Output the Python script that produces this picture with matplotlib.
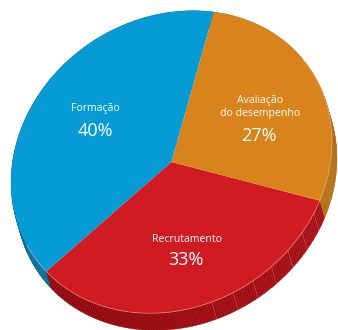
import numpy as np
import matplotlib.pyplot as plt
from matplotlib.transforms import Affine2D
from matplotlib.patches import Polygon
from matplotlib.colors import to_rgb

# slices, counter-clockwise from the top boundary
labels = ["Formação", "Recrutamento", "Avaliação\ndo desempenho"]
shares = [40, 33, 27]
pct_labels = ["40%", "33%", "27%"]
top_colors = ["#069bd5", "#d01b22", "#d8831b"]
side_dark = ["#08699a", "#8a0408", "#a9650f"]
side_light = ["#0b7db3", "#aa1017", "#b56f14"]

plt.rcParams['font.family'] = ['Open Sans', 'DejaVu Sans']

fig = plt.figure(figsize=(3.38, 3.30), dpi=100)
ax = fig.add_axes([0, 0, 1, 1])

wedges, _ = ax.pie(shares, colors=top_colors, startangle=79, counterclock=True,
                   wedgeprops=dict(linewidth=0))

ax.set_aspect('auto')
ax.set_xlim(0, 338)
ax.set_ylim(330, 0)
ax.axis('off')

# unit circle -> tilted ellipse in pixel space (y down)
cx, cy = 171.5, 162
tilt = Affine2D.from_values(160, -9, 12, -151, cx, cy)
depth = np.array([5, 17])

for w in wedges:
    w.set_transform(tilt + ax.transData)
    w.set_zorder(3)

# side bands
for i, w in enumerate(wedges):
    t = np.radians(np.linspace(w.theta1, w.theta2, 120))
    top = tilt.transform(np.c_[np.cos(t), np.sin(t)])
    bot = top + depth
    c0, c1 = np.array(to_rgb(side_dark[i])), np.array(to_rgb(side_light[i]))
    for k in range(len(t) - 1):
        f = (np.cos(t[k]) + 1) / 2
        col = c0 + (c1 - c0) * f
        quad = [top[k], top[k + 1], bot[k + 1], bot[k]]
        ax.add_patch(Polygon(quad, closed=True, fc=col, ec=col, lw=0.3, zorder=1))

# facet lines on the front side
red = wedges[1]
for a in np.arange(red.theta2 - 5, red.theta2 - 56, -8):
    p = tilt.transform([np.cos(np.radians(a)), np.sin(np.radians(a))])
    ax.plot([p[0], p[0] + depth[0]], [p[1], p[1] + depth[1]],
            color="#e88a8a", lw=0.5, alpha=0.45, zorder=2)

# light rim along the front edge
t = np.radians(np.linspace(-150, 40, 200))
rim = tilt.transform(np.c_[np.cos(t), np.sin(t)])
ax.plot(rim[:, 0], rim[:, 1], color="#f3c2a8", lw=0.6, alpha=0.55, zorder=4)

# labels
name_pos = [(95.5, 109), (187, 240), (260, 107)]
pct_pos = [(95, 131), (185.5, 260), (259, 136)]
for i in range(len(labels)):
    ax.text(*name_pos[i], labels[i], color="white", fontsize=7.6,
            ha="center", va="center", linespacing=1.15, zorder=5)
    ax.text(*pct_pos[i], pct_labels[i], color="white", fontsize=13,
            ha="center", va="center", zorder=5)

fig.savefig("out.png", dpi=100)
